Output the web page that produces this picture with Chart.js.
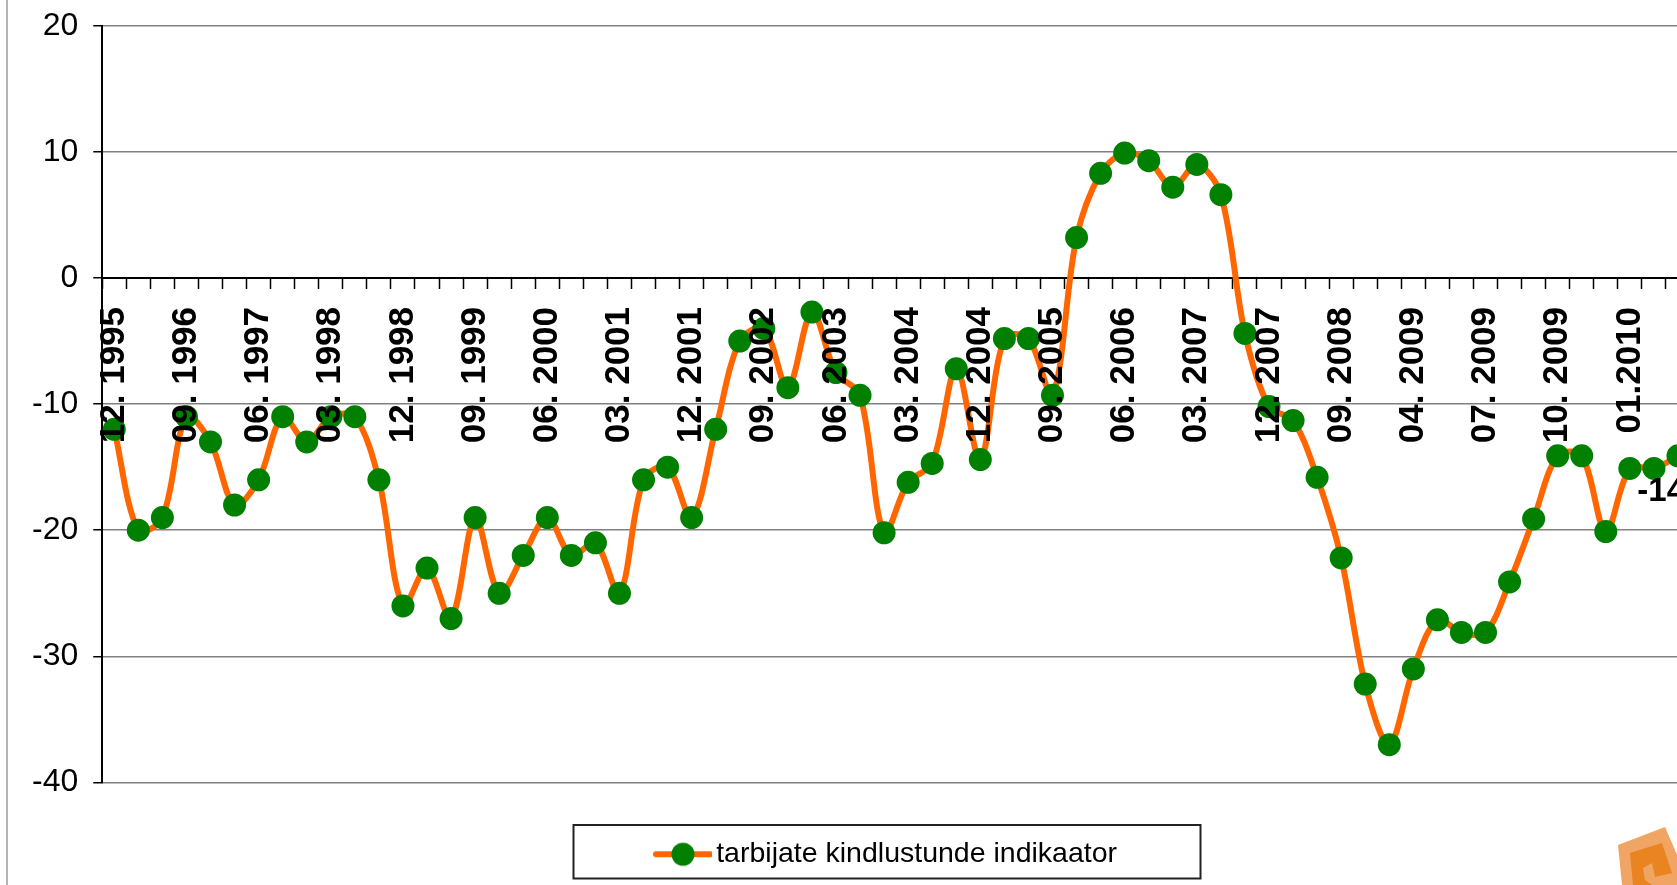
<!DOCTYPE html>
<html><head><meta charset="utf-8">
<style>
html,body{margin:0;padding:0;width:1677px;height:885px;overflow:hidden;background:#fff}
#wrap{position:absolute;left:0;top:0;width:1677px;height:885px;overflow:hidden}
canvas{position:absolute;left:0;top:0}
#edge{position:absolute;left:6px;top:0;width:2px;height:885px;background:#b4b4b4}
#logo{position:absolute;left:1600px;top:820px}
</style>
<script src="https://cdn.jsdelivr.net/npm/chart.js@4"></script>
</head><body>
<div id="wrap">
<canvas id="c" width="1820" height="885"></canvas>
<div id="edge"></div>
<svg id="logo" width="77" height="65" viewBox="1600 820 77 65">
<polygon points="1618,845 1665,827 1690,885 1622,885" fill="#f0a565"/>
<polygon points="1630,853 1662,843 1672,873 1655,877 1652,863 1643,868 1645,880 1652,885 1633,885" fill="#e98420"/>
</svg>
</div>
<script>
const seriesName = 'tarbijate kindlustunde indikaator';
const categories = [
 '12. 1995','','','09. 1996','','','06. 1997','','','03. 1998','','',
 '12. 1998','','','09. 1999','','','06. 2000','','','03. 2001','','',
 '12. 2001','','','09. 2002','','','06. 2003','','','03. 2004','','',
 '12. 2004','','','09. 2005','','','06. 2006','','','03. 2007','','',
 '12. 2007','','','09. 2008','','','04. 2009','','','07. 2009','','',
 '10. 2009','','','01.2010','',''];
const values = [
 -12,-20,-19,-11,-13,-18,-16,-11,-13,-11,-11,-16,
 -26,-23,-27,-19,-25,-22,-19,-22,-21,-25,-16,-15,
 -19,-12,-5,-4,-8.7,-2.7,-7.5,-9.3,-20.2,-16.2,-14.7,-7.2,
 -14.4,-4.8,-4.8,-9.3,3.2,8.3,9.9,9.3,7.2,9,6.6,-4.4,
 -10.2,-11.3,-15.8,-22.2,-32.2,-37,-31,-27.1,-28.1,-28.1,-24.1,-19.1,
 -14.1,-14.1,-20.1,-15.1,-15.1,-14.1];
const yMin = -40, yMax = 20, yStep = 10;
const orange = '#ff6600', green = '#008000';
const family = '"Liberation Sans", Arial, sans-serif';

const marker = document.createElement('canvas');
marker.width = 66; marker.height = 26;
(function(){
  const m = marker.getContext('2d');
  m.strokeStyle = orange; m.lineWidth = 6; m.lineCap = 'round';
  m.beginPath(); m.moveTo(10,13); m.lineTo(64,13); m.stroke();
  m.fillStyle = green; m.beginPath(); m.arc(37,13,11.5,0,Math.PI*2); m.fill();
})();

const extras = {
  id:'extras',
  afterLayout(chart){
    const l = chart.legend;
    l.top += 42.5; l.bottom += 42.5; l.left += 33; l.right += 33;
  },
  afterDraw(chart){
    const ctx = chart.ctx, l = chart.legend;
    const cx = (l.left + l.right) / 2;
    ctx.save();
    ctx.strokeStyle = '#222'; ctx.lineWidth = 2;
    ctx.strokeRect(cx - 313, l.top, 627, l.height);
    const meta = chart.getDatasetMeta(0);
    const last = meta.data[meta.data.length - 1];
    ctx.fillStyle = '#000';
    ctx.font = 'bold 33px ' + family;
    ctx.textAlign = 'center'; ctx.textBaseline = 'middle';
    ctx.fillText(String(values[values.length - 1]).replace('.', ','), last.x - 3, last.y + 36);
    ctx.restore();
  }
};

new Chart(document.getElementById('c'), {
  type:'line',
  data:{labels:categories, datasets:[{
    label:seriesName, data:values,
    borderColor:orange, borderWidth:6, backgroundColor:green,
    pointBackgroundColor:green, pointBorderColor:green, pointBorderWidth:0,
    pointRadius:11.5, tension:0.33, clip:false
  }]},
  options:{
    responsive:false, animation:false, devicePixelRatio:1,
    layout:{padding:{left:17,right:130,top:25.7,bottom:49}},
    plugins:{
      tooltip:{enabled:false},
      legend:{position:'bottom',
        labels:{color:'#000',font:{family:family,size:28.5},usePointStyle:true,pointStyle:marker,
          pointStyleWidth:46,padding:15,
          generateLabels(){return [{text:seriesName,pointStyle:marker,fontColor:'#000',lineWidth:0,strokeStyle:'transparent',fillStyle:'transparent',datasetIndex:0}];}}}
    },
    scales:{
      x:{type:'category',position:{y:0},offset:true,
        grid:{display:true,offset:true,drawOnChartArea:false,drawTicks:true,tickLength:10,tickColor:'#000',tickWidth:1.5},
        border:{display:true,color:'#000',width:2},
        ticks:{z:1,autoSkip:false,minRotation:90,maxRotation:90,padding:19,color:'#000',
          font:{family:family,size:35,weight:'bold'}}},
      y:{min:yMin,max:yMax,
        afterFit(s){ s.paddingTop = 0; },
        grid:{color:'#808080',lineWidth:1.5,drawTicks:true,tickLength:9,tickColor:'#000'},
        border:{display:true,color:'#000',width:2},
        ticks:{stepSize:yStep,padding:15,color:'#000',font:{family:family,size:32}}}
    }
  },
  plugins:[extras]
});
</script>
</body></html>
